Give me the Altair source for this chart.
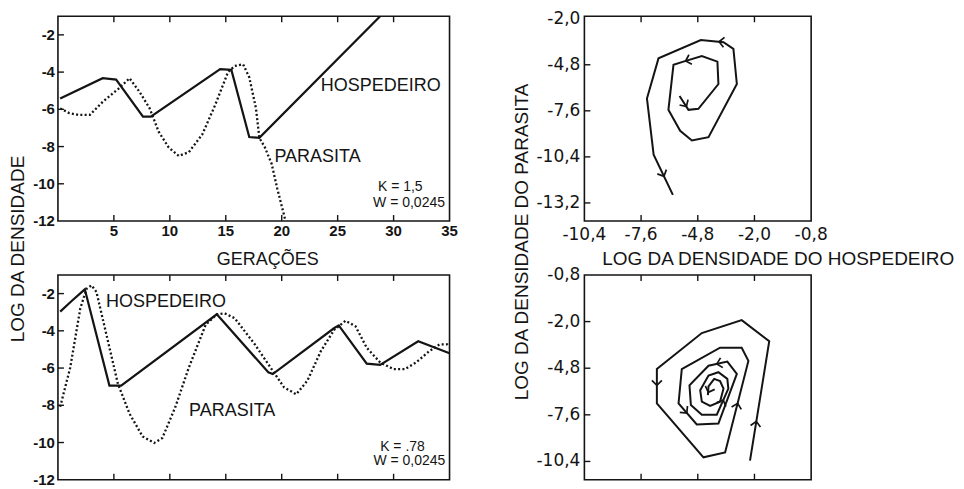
import altair as alt
import pandas as pd

INK = "#141414"
FONT = "Liberation Sans"

# ---------------- time series: top (K = 1,5) ----------------
tl_host_gen = [0.2, 4.0, 5.2, 7.6, 8.3, 14.5, 15.5, 17.1, 18.0, 28.8]
tl_host_log = [-5.42, -4.33, -4.40, -6.39, -6.39, -3.84, -3.88, -7.49, -7.53, -1.0]
tl_para_gen = [0.2, 1.0, 1.8, 2.85, 4.0, 5.4, 6.4, 7.3, 8.2, 9.0, 9.9, 10.8, 11.7,
               12.9, 14.05, 15.2, 15.8, 16.55, 17.1, 17.7, 18.0, 18.5, 19.1, 19.6, 20.3]
tl_para_log = [-5.95, -6.2, -6.3, -6.3, -5.6, -4.9, -4.33, -5.07, -5.95, -7.2, -8.05, -8.5, -8.3,
               -7.35, -5.77, -4.0, -3.67, -3.58, -4.28, -5.95, -7.53, -8.05, -8.93, -10.25, -11.9]

# ---------------- time series: bottom (K = .78) ----------------
bl_host_gen = [0.2, 1.2, 2.4, 4.6, 5.65, 14.2, 18.8, 19.2, 24.7, 25.1, 27.6, 28.8, 32.2, 35.0]
bl_host_log = [-2.97, -2.41, -1.77, -6.94, -6.94, -3.11, -6.23, -6.32, -3.85, -3.71, -5.76, -5.83, -4.56, -5.2]
bl_para_gen = [0.2, 1.1, 2.0, 2.56, 3.0, 3.44, 4.33, 5.36, 6.39, 7.56, 8.6, 9.33, 10.5, 11.7, 13.2, 14.2,
               14.9, 15.8, 17.6, 19.1, 20.2, 21.3, 22.3, 23.5, 24.7, 25.7, 26.6, 27.6, 28.8, 30.0, 31.0,
               32.0, 33.2, 34.1, 34.8, 35.0]
bl_para_log = [-8.08, -5.97, -2.79, -1.74, -1.56, -1.91, -4.2, -6.85, -8.44, -9.67, -10.02, -9.76, -8.08,
               -5.97, -3.68, -3.11, -3.06, -3.32, -4.73, -6.06, -7.03, -7.41, -6.67, -5.09, -3.94, -3.46,
               -3.76, -4.91, -5.7, -6.06, -6.06, -5.7, -5.09, -4.73, -4.73, -4.85]

# ---------------- phase plane: top ----------------
tr_host = [-5.70, -5.26, -4.77, -3.78, -3.83, -4.60, -5.51, -6.00, -6.25, -5.67, -5.09, -4.27,
           -2.87, -3.04, -3.53, -4.65, -6.74, -7.31, -6.98, -6.03]
tr_para = [-6.70, -7.54, -7.48, -5.97, -4.61, -4.27, -4.61, -4.80, -7.54, -8.81, -9.40, -9.20,
           -5.97, -3.83, -3.43, -3.30, -4.41, -6.85, -10.27, -12.71]
tr_arrow_host = [-5.36, -5.40, -3.75, -6.47]
tr_arrow_para = [-7.34, -4.57, -3.40, -11.58]
tr_arrow_angle = [328, 73, 96, 335]

# ---------------- phase plane: bottom ----------------
br_host = [-2.22, -1.27, -2.63, -4.60, -6.82, -6.82, -4.52, -3.45,
           -2.30, -2.63, -3.70, -5.59, -5.75, -4.85, -3.78,
           -2.87, -3.34, -4.27, -5.21, -5.14, -4.60, -3.86,
           -3.29, -3.34, -3.78, -4.27, -4.68, -4.60, -4.19, -3.70,
           -3.53, -3.70, -3.99, -4.27, -4.30]
br_para = [-10.35, -3.18, -1.91, -2.69, -4.85, -6.91, -10.15, -9.86,
           -4.36, -3.57, -3.57, -4.85, -6.91, -8.18, -8.12,
           -5.14, -4.40, -4.65, -5.83, -7.01, -7.59, -7.59,
           -6.03, -5.44, -5.04, -5.24, -6.12, -6.81, -7.06, -6.81,
           -6.03, -5.57, -5.44, -5.89, -6.42]
br_arrow_host = [-1.91, -6.82, -2.83, -5.34, -3.86, -3.54, -4.28]
br_arrow_para = [-7.99, -5.83, -6.91, -7.49, -4.54, -6.71, -6.25]
br_arrow_angle = [189, 0, 194, 320, 77, 204, 20]

# ---------------- axes ----------------
ts_xticks = [5, 10, 15, 20, 25, 30, 35]
ts_xlabels = ["5", "10", "15", "20", "25", "30", "35"]
ts_yticks = [-2, -4, -6, -8, -10, -12]
ts_ylabels = ["-2", "-4", "-6", "-8", "-10", "-12"]
ts_inner_x = [5, 10, 15, 20, 25, 30]
ts_inner_y = [-2, -4, -6, -8, -10]

ph_xticks = [-10.4, -7.6, -4.8, -2.0, 0.8]
ph_xlabels = ["-10,4", "-7,6", "-4,8", "-2,0", "-0,8"]
ph_inner_x = [-7.6, -4.8, -2.0]
tr_yticks = [-2.0, -4.8, -7.6, -10.4, -13.2]
tr_ylabels = ["-2,0", "-4,8", "-7,6", "-10,4", "-13,2"]
tr_inner_y = [-4.8, -7.6, -10.4, -13.2]
br_yticks = [0.8, -2.0, -4.8, -7.6, -10.4]
br_ylabels = ["-0,8", "-2,0", "-4,8", "-7,6", "-10,4"]
br_inner_y = [-2.0, -4.8, -7.6, -10.4]

# ---------------- annotations ----------------
tl_text = ["HOSPEDEIRO", "PARASITA"]
tl_text_x = [23.5, 19.35]
tl_text_y = [-4.77, -8.58]
tl_small = ["K = 1,5", "W = 0,0245"]
tl_small_x = [28.6, 28.17]
tl_small_y = [-10.16, -11.04]
bl_text = ["HOSPEDEIRO", "PARASITA"]
bl_text_x = [4.3, 11.72]
bl_text_y = [-2.47, -8.29]
bl_small = ["K = .78", "W = 0,0245"]
bl_small_x = [28.8, 28.2]
bl_small_y = [-10.24, -11.01]

W_L, W_R, H = 392, 227, 205
TS_XDOM, TS_YDOM = [0, 35], [-12, -1.0]
PH_XDOM = [-10.4, 0.8]
TR_YDOM = [-14.3, -1.85]
BR_YDOM = [-11.5, 0.8]


def inner_ticks(xvals, yvals, xs, ys, h, L=6):
    dx = pd.DataFrame({"v": xvals})
    dy = pd.DataFrame({"v": yvals})
    return [
        alt.Chart(dx).mark_rule(color=INK, strokeWidth=1.4).encode(
            x=alt.X("v:Q", scale=xs, axis=None), y=alt.value(0), y2=alt.value(L)),
        alt.Chart(dx).mark_rule(color=INK, strokeWidth=1.4).encode(
            x=alt.X("v:Q", scale=xs, axis=None), y=alt.value(h), y2=alt.value(h - L)),
        alt.Chart(dy).mark_rule(color=INK, strokeWidth=1.4).encode(
            y=alt.Y("v:Q", scale=ys, axis=None), x=alt.value(0), x2=alt.value(L)),
    ]


def y_labels(values, labels, ys, font, size, weight, dx):
    df = pd.DataFrame({"v": values, "t": labels})
    return alt.Chart(df).mark_text(align="right", baseline="middle", font=font, fontSize=size,
                                   fontWeight=weight, color=INK).encode(
        y=alt.Y("v:Q", scale=ys, axis=None), x=alt.value(-dx), text="t:N")


def x_labels(values, labels, xs, font, size, weight, dy):
    df = pd.DataFrame({"v": values, "t": labels})
    return alt.Chart(df).mark_text(align="center", baseline="middle", font=font, fontSize=size,
                                   fontWeight=weight, color=INK).encode(
        x=alt.X("v:Q", scale=xs, axis=None), y=alt.value(H + dy), text="t:N")


def texts(labels, xv, yv, xs, ys, size):
    df = pd.DataFrame({"t": labels, "x": xv, "y": yv})
    return alt.Chart(df).mark_text(align="left", baseline="middle", font=FONT, fontSize=size,
                                   color=INK).encode(
        x=alt.X("x:Q", scale=xs, axis=None), y=alt.Y("y:Q", scale=ys, axis=None), text="t:N")


def free_text(label, x, y, size, angle=0):
    df = pd.DataFrame({"t": [label]})
    kw = {"angle": angle} if angle else {}
    return alt.Chart(df).mark_text(align="center", baseline="middle", font=FONT, fontSize=size,
                                   color=INK, **kw).encode(
        x=alt.value(x), y=alt.value(y), text="t:N")


def ts_panel(hg, hv, pg, pv, big, bx, by, small, sx, sy, show_x, titles):
    xs = alt.Scale(domain=TS_XDOM, nice=False, zero=False)
    ys = alt.Scale(domain=TS_YDOM, nice=False, zero=False)
    host = alt.Chart(pd.DataFrame({"g": hg, "v": hv})).mark_line(
        color=INK, strokeWidth=2.2, clip=True).encode(
        x=alt.X("g:Q", scale=xs, axis=None), y=alt.Y("v:Q", scale=ys, axis=None))
    para = alt.Chart(pd.DataFrame({"g": pg, "v": pv})).mark_line(
        color=INK, strokeWidth=2.3, strokeDash=[2, 2.3], clip=True).encode(
        x=alt.X("g:Q", scale=xs, axis=None), y=alt.Y("v:Q", scale=ys, axis=None))
    layers = [host, para, texts(big, bx, by, xs, ys, 18), texts(small, sx, sy, xs, ys, 14)]
    layers += inner_ticks(ts_inner_x, ts_inner_y, xs, ys, H)
    layers.append(y_labels(ts_yticks, ts_ylabels, ys, FONT, 15, "bold", 3))
    if show_x:
        layers.append(x_labels(ts_xticks, ts_xlabels, xs, FONT, 15, "bold", 10))
    layers += titles
    return alt.layer(*layers).properties(width=W_L, height=H)


def phase_panel(hx, py, ax, ay, aa, ydom, yticks, ylabels, inner_y, show_x, titles):
    xs = alt.Scale(domain=PH_XDOM, nice=False, zero=False)
    ys = alt.Scale(domain=ydom, nice=False, zero=False)
    path = alt.Chart(pd.DataFrame({"h": hx, "p": py, "i": list(range(len(hx)))})).mark_line(
        color=INK, strokeWidth=2.0, clip=True).encode(
        x=alt.X("h:Q", scale=xs, axis=None), y=alt.Y("p:Q", scale=ys, axis=None), order="i:Q")
    arrows = alt.Chart(pd.DataFrame({"h": ax, "p": ay, "a": aa})).mark_point(
        shape="M -1 -1 L 0 0 L 1 -1", filled=False, size=100, strokeWidth=1.7, color=INK,
        opacity=1).encode(
        x=alt.X("h:Q", scale=xs, axis=None), y=alt.Y("p:Q", scale=ys, axis=None),
        angle=alt.Angle("a:Q", scale=None))
    layers = [path, arrows] + inner_ticks(ph_inner_x, inner_y, xs, ys, H)
    layers.append(y_labels(yticks, ylabels, ys, "DejaVu Sans", 17, "normal", 4))
    if show_x:
        layers.append(x_labels(ph_xticks, ph_xlabels, xs, "DejaVu Sans", 17, "normal", 14))
    layers += titles
    return alt.layer(*layers).properties(width=W_R, height=H)


TL = ts_panel(tl_host_gen, tl_host_log, tl_para_gen, tl_para_log, tl_text, tl_text_x, tl_text_y,
              tl_small, tl_small_x, tl_small_y, True,
              [free_text("GERAÇÕES", 210, 244, 18), free_text("LOG DA DENSIDADE", -40, 233, 19, 270)])
BL = ts_panel(bl_host_gen, bl_host_log, bl_para_gen, bl_para_log, bl_text, bl_text_x, bl_text_y,
              bl_small, bl_small_x, bl_small_y, False, [])
TR = phase_panel(tr_host, tr_para, tr_arrow_host, tr_arrow_para, tr_arrow_angle, TR_YDOM,
                 tr_yticks, tr_ylabels, tr_inner_y, True,
                 [free_text("LOG DA DENSIDADE DO HOSPEDEIRO", 194, 243, 19),
                  free_text("LOG DA DENSIDADE DO PARASITA", -62, 226, 19, 270)])
BR = phase_panel(br_host, br_para, br_arrow_host, br_arrow_para, br_arrow_angle, BR_YDOM,
                 br_yticks, br_ylabels, br_inner_y, False, [])

chart = alt.concat(TL, TR, BL, BR, columns=2, spacing={"row": 54, "column": 135},
                   bounds="flush").properties(
    padding={"left": 0, "top": 0, "right": 0, "bottom": 0},
    background="white",
).configure_view(stroke=INK, strokeWidth=1.6)

chart.save("out.html", embed_options={"renderer": "svg", "actions": False})
